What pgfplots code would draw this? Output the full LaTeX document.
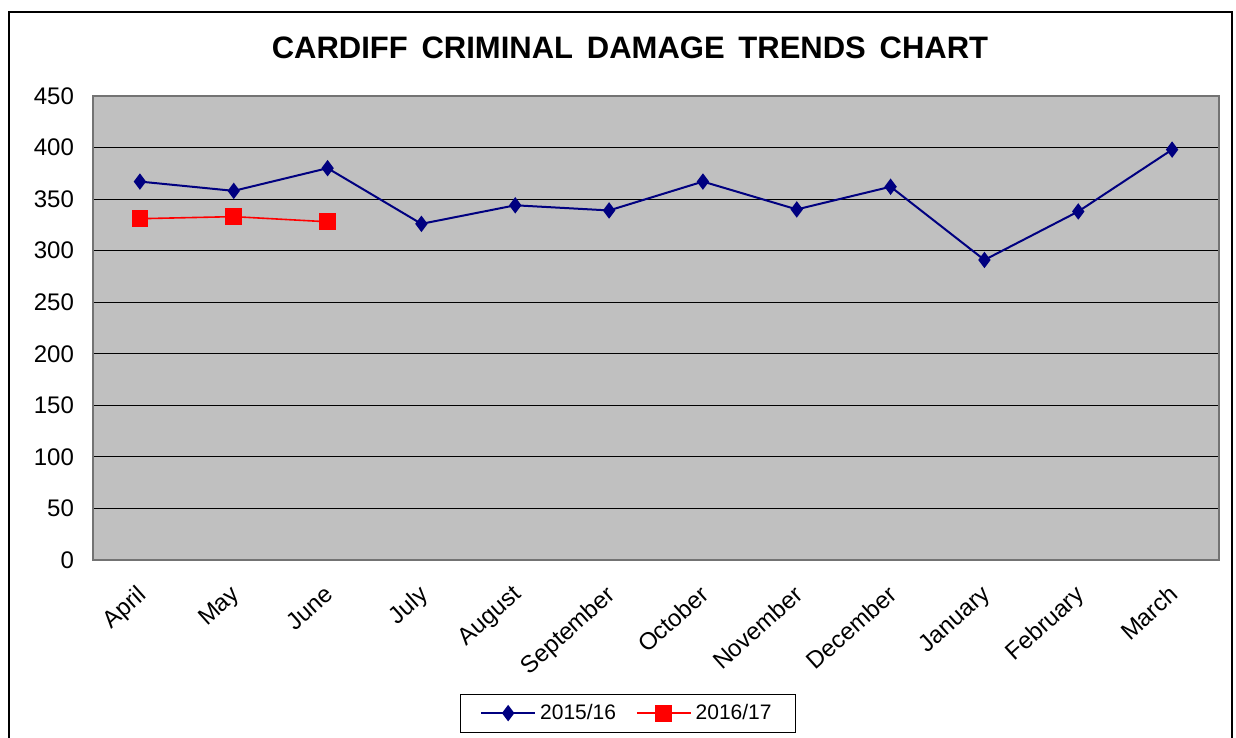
\documentclass[border=0pt]{standalone}
\usepackage{pgfplots}
\pgfplotsset{compat=1.18}
\usepackage{fontspec}
\setmainfont{Liberation Sans}
\definecolor{navyline}{HTML}{000080}
\definecolor{plotbg}{HTML}{C0C0C0}
\begin{document}
\begin{tikzpicture}
\useasboundingbox (0,0) rectangle (618pt,369pt);
\draw[black, line width=0.7pt] (4.5pt,-5pt) -- (4.5pt,363pt) -- (616pt,363pt) -- (616pt,-5pt);
\node[font=\bfseries\fontsize{15.5}{18}\selectfont] at (315pt,345pt) {CARDIFF\, CRIMINAL\, DAMAGE\, TRENDS\, CHART};
\begin{axis}[
  at={(46.5pt,89pt)}, anchor=south west,
  scale only axis, width=563pt, height=232pt,
  xmin=-0.5, xmax=11.5, ymin=0, ymax=450,
  axis background/.style={fill=plotbg},
  axis line style={draw=gray!90!black, line width=1.2pt},
  xtick=data,
  xticklabels={April,May,June,July,August,September,October,November,December,January,February,March},
  ytick={0,50,...,450},
  major tick length=0pt,
  ymajorgrids, grid style={black, line width=0.6pt},
  tick label style={font=\fontsize{12}{14}\selectfont},
  /pgf/number format/assume math mode=true,
  xticklabel style={rotate=42, anchor=north east, xshift=-6pt, yshift=-4pt},
  yticklabel style={xshift=-6pt},
  legend style={at={(0.475,-0.33)}, anchor=center, draw=black, fill=white, line width=0.5pt,
    font=\fontsize{10.5}{12}\selectfont, legend columns=2, inner xsep=10pt, inner ysep=3pt,
    /tikz/every even column/.append style={column sep=8pt}},
  legend image code/.code={\draw[mark repeat=2,mark phase=2] plot coordinates {(0pt,0pt) (13.5pt,0pt) (27pt,0pt)};},
  legend cell align=left,
]
\addplot[navyline, line width=1pt, mark=diamond*, mark size=3.3pt, mark options={solid, fill=navyline}]
  coordinates {(0,367) (1,358) (2,380) (3,326) (4,344) (5,339) (6,367) (7,340) (8,362) (9,291) (10,338) (11,398)};
\addlegendentry{2015/16}
\addplot[red, line width=0.8pt, mark=square*, mark size=3.8pt, mark options={solid, fill=red}]
  coordinates {(0,331) (1,333) (2,328)};
\addlegendentry{2016/17}
\end{axis}
\end{tikzpicture}
\end{document}
